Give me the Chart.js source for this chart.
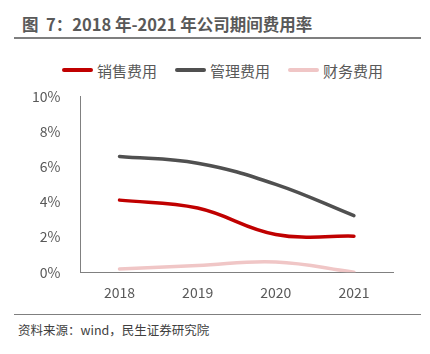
<!DOCTYPE html>
<html>
<head>
<meta charset="utf-8">
<script src="https://cdn.jsdelivr.net/npm/chart.js@4/dist/chart.umd.min.js"></script>
<style>
  body { margin:0; width:430px; height:354px; background:#fff; position:relative; overflow:hidden;
         font-family:"Noto Sans CJK SC","Noto Sans",sans-serif; }
  #title { position:absolute; left:22px; top:12px; font-size:16.5px; font-weight:bold; color:#595959; white-space:pre; }
  #rule1 { position:absolute; left:14px; top:37px; width:407px; height:2px; background:#7f7f7f; }
  #rule2 { position:absolute; left:14px; top:314px; width:407px; height:1px; background:#7f7f7f; }
  #source { position:absolute; left:18px; top:320px; font-size:12.5px; color:#404040; white-space:nowrap; }
  #legend { position:absolute; left:62px; top:59px; height:22px; display:flex; align-items:center; white-space:nowrap; }
  .item { display:flex; align-items:center; margin-right:18px; font-size:15px; color:#595959; }
  .swatch { width:31px; height:4px; border-radius:2px; margin-right:4px; }
  #box { position:absolute; left:0; top:76px; width:430px; height:229px; }
</style>
</head>
<body>
<div id="title">图  7：2018 年-2021 年公司期间费用率</div>
<div id="rule1"></div>
<div id="legend"></div>
<div id="box"><canvas id="rateChart"></canvas></div>
<div id="rule2"></div>
<div id="source">资料来源：wind，民生证券研究院</div>
<script>
// years and expense ratios (%)
const years = ['2018', '2019', '2020', '2021'];
const salesRate = [4.1, 3.65, 2.15, 2.05];
const adminRate = [6.58, 6.2, 5.0, 3.22];
const financeRate = [0.18, 0.38, 0.58, 0.0];
const yTicks = [0, 2, 4, 6, 8, 10];

const textColor = '#595959';

let rateChart = new Chart('rateChart', {
    type: 'line',
    data: {
        labels: years,
        datasets: [{
            label: '销售费用',
            data: salesRate,
            borderColor: '#c00000'
        }, {
            label: '管理费用',
            data: adminRate,
            borderColor: '#505050'
        }, {
            label: '财务费用',
            data: financeRate,
            borderColor: '#f0c6c6'
        }]
    },
    options: {
        responsive: true,
        maintainAspectRatio: false,
        animation: false,
        layout: {
            padding: { left: 20, right: 37, top: 0, bottom: 0 }
        },
        elements: {
            line: { borderWidth: 3.5, tension: 0.4, borderCapStyle: 'round' },
            point: { radius: 0 }
        },
        scales: {
            x: {
                offset: true,
                grid: { display: false },
                border: { display: true, color: '#808080', width: 1 },
                ticks: { color: textColor, font: { size: 14, family: 'Noto Sans CJK SC' }, padding: 4 }
            },
            y: {
                min: 0,
                max: 10,
                afterBuildTicks: function(axis) {
                    axis.ticks = yTicks.map(v => ({ value: v }));
                },
                grid: { display: false },
                border: { display: true, color: '#808080', width: 1 },
                ticks: {
                    color: textColor,
                    font: { size: 14, family: 'Noto Sans CJK SC' },
                    padding: 12,
                    callback: v => v + '%'
                }
            }
        },
        plugins: {
            legend: { display: false },
            tooltip: { enabled: false }
        }
    }
});

// html legend built from the datasets
const legend = document.getElementById('legend');
rateChart.data.datasets.forEach(ds => {
    const item = document.createElement('div');
    item.className = 'item';
    const sw = document.createElement('span');
    sw.className = 'swatch';
    sw.style.background = ds.borderColor;
    item.appendChild(sw);
    item.appendChild(document.createTextNode(ds.label));
    legend.appendChild(item);
});
</script>
</body>
</html>
